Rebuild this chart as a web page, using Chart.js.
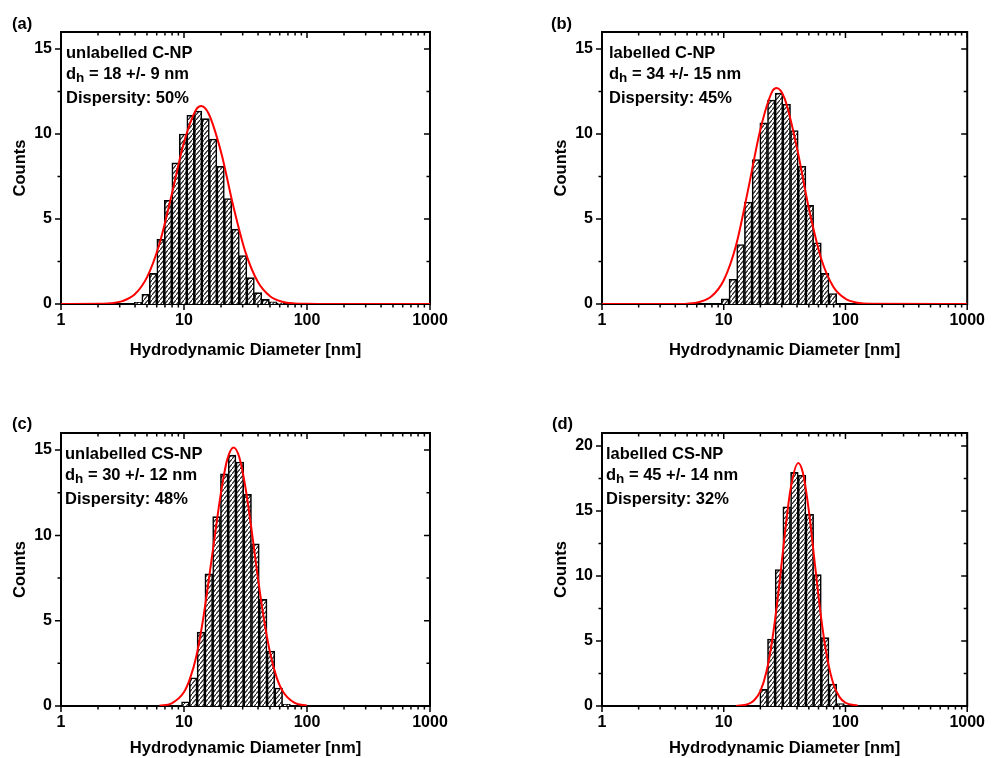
<!DOCTYPE html>
<html>
<head>
<meta charset="utf-8">
<title>DLS size distributions</title>
<script src="https://cdn.jsdelivr.net/npm/chart.js@4.4.1/dist/chart.umd.min.js"></script>
<style>
  html, body { margin: 0; padding: 0; background: #fff; }
  #page { position: relative; width: 992px; height: 758px; overflow: hidden;
          font-family: "Liberation Sans", Arial, sans-serif; font-weight: bold; color: #000; }
  #page canvas { position: absolute; }
  .tag, .note { position: absolute; font-size: 16.5px; line-height: 16px; white-space: nowrap; z-index: 2; }
  .note sub { font-size: 13.5px; vertical-align: baseline; position: relative; top: 3px; }
</style>
</head>
<body>
<div id="page"></div>
<script>
// ---- values ----
const xTicks = [1, 10, 100, 1000];
const xMinorTicks = [2, 3, 4, 5, 6, 7, 8, 9, 20, 30, 40, 50, 60, 70, 80, 90,
                     200, 300, 400, 500, 600, 700, 800, 900];
const yTicks = [0, 5, 10, 15];
const yMinorTicks = [2.5, 7.5, 12.5];
const yTicksD = [0, 5, 10, 15, 20];
const yMinorTicksD = [2.5, 7.5, 12.5, 17.5];

const panelTags = ["(a)", "(b)", "(c)", "(d)"];
const sampleNames = ["unlabelled C-NP", "labelled C-NP", "unlabelled CS-NP", "labelled CS-NP"];
const sizeTexts = ["18 +/- 9 nm", "34 +/- 15 nm", "30 +/- 12 nm", "45 +/- 14 nm"];
const dispersities = ["50%", "45%", "48%", "32%"];
const xTitle = "Hydrodynamic Diameter [nm]";
const yTitle = "Counts";

// (a) unlabelled C-NP : bin centres [nm] and counts
const binsA = [4.233, 4.870, 5.604, 6.448, 7.422, 8.541, 9.829, 11.31, 13.02, 14.98,
               17.24, 19.84, 22.83, 26.27, 30.24, 34.80, 40.05, 46.09, 53.04, 61.04];
const countsA = [0.1, 0.57, 1.8, 3.8, 6.1, 8.3, 10.0, 11.1, 11.35, 10.9,
                 9.7, 8.1, 6.2, 4.4, 2.85, 1.55, 0.67, 0.27, 0.13, 0.05];
const fitXA = [1, 2.0, 2.51, 3.16, 3.98, 5.01, 6.31, 7.94, 10.0, 12.6, 13.8, 15.8,
               20.0, 25.1, 31.6, 39.8, 50.1, 63.1, 79.4, 100, 158, 1000];
const fitYA = [0, 0.01, 0.04, 0.17, 0.57, 1.58, 3.53, 6.43, 9.51, 11.46, 11.65, 11.22,
               8.94, 5.80, 3.05, 1.31, 0.46, 0.13, 0.03, 0.01, 0, 0];

// (b) labelled C-NP
const binsB = [10.27, 11.88, 13.74, 15.90, 18.39, 21.27, 24.60, 28.44, 32.90, 38.06,
               44.02, 50.92, 58.88, 68.11, 78.78];
const countsB = [0.3, 1.45, 3.5, 6.0, 8.5, 10.65, 12.0, 12.4, 11.75, 10.2,
                 8.1, 5.8, 3.6, 1.8, 0.62];
const fitXB = [1, 3.98, 5.01, 6.31, 7.94, 10.0, 12.6, 15.8, 20.0, 25.1, 27.2, 31.6,
               39.8, 50.1, 63.1, 79.4, 100, 126, 158, 1000];
const fitYB = [0, 0, 0.02, 0.12, 0.45, 1.40, 3.43, 6.67, 10.27, 12.52, 12.7, 12.09,
               9.24, 5.60, 2.68, 1.02, 0.31, 0.07, 0.01, 0];

// (c) unlabelled CS-NP
const binsC = [10.27, 11.88, 13.74, 15.90, 18.39, 21.27, 24.60, 28.44, 32.90, 38.06,
               44.02, 50.92, 58.88, 68.11];
const countsC = [0.25, 1.65, 4.33, 7.75, 11.1, 13.6, 14.7, 14.3, 12.4, 9.5,
                 6.25, 3.22, 1.05, 0.1];
const fitXC = [6.31, 7.94, 10.0, 11.2, 12.6, 14.1, 15.8, 17.8, 20.0, 22.4, 25.3, 28.2,
               31.6, 35.5, 39.8, 44.7, 50.1, 56.2, 63.1, 79.4, 100];
const fitYC = [0.02, 0.16, 0.82, 1.62, 2.92, 4.81, 7.24, 9.96, 12.53, 14.41, 15.15, 14.56,
               12.80, 10.28, 7.56, 5.08, 3.12, 1.75, 0.90, 0.18, 0.02];

// (d) labelled CS-NP
const binsD = [21.27, 24.60, 28.44, 32.90, 38.06, 44.02, 50.92, 58.88, 68.11, 78.78, 91.12];
const countsD = [1.28, 5.15, 10.5, 15.33, 17.97, 17.75, 14.75, 10.1, 5.26, 1.69, 0.18];
const fitXD = [12.6, 15.8, 17.8, 20.0, 22.4, 25.1, 28.2, 31.6, 35.5, 40.9, 44.7, 50.1,
               56.2, 63.1, 70.8, 79.4, 89.1, 100, 126];
const fitYD = [0.01, 0.14, 0.44, 1.15, 2.61, 5.15, 8.81, 13.05, 16.75, 18.7, 17.94, 14.97,
               10.83, 6.78, 3.68, 1.73, 0.70, 0.25, 0.02];

// ---- layout (page pixels) ----
const FONT = '"Liberation Sans", Arial, sans-serif';
const CW = 496, CH = 379;
const panels = [
  { bins: binsA, counts: countsA, fitX: fitXA, fitY: fitYA, yMax: 16, yT: yTicks, yM: yMinorTicks,
    left: 0, top: 0, padL: 0, padR: 66, plotTop: 32, xAxisH: 60, padB: 15, titlePadB: 4,
    noteX: 66, noteY: 44, tagX: 12, tagY: 15 },
  { bins: binsB, counts: countsB, fitX: fitXB, fitY: fitYB, yMax: 16, yT: yTicks, yM: yMinorTicks,
    left: 496, top: 0, padL: 45, padR: 20, plotTop: 32, xAxisH: 60, padB: 15, titlePadB: 4,
    noteX: 609, noteY: 44, tagX: 551, tagY: 15 },
  { bins: binsC, counts: countsC, fitX: fitXC, fitY: fitYC, yMax: 16, yT: yTicks, yM: yMinorTicks,
    left: 0, top: 379, padL: 0, padR: 66, plotTop: 54, xAxisH: 52, padB: 0, titlePadB: 0,
    noteX: 65, noteY: 445, tagX: 12, tagY: 415 },
  { bins: binsD, counts: countsD, fitX: fitXD, fitY: fitYD, yMax: 21, yT: yTicksD, yM: yMinorTicksD,
    left: 496, top: 379, padL: 45, padR: 20, plotTop: 54, xAxisH: 52, padB: 0, titlePadB: 0,
    noteX: 606, noteY: 445, tagX: 552, tagY: 415 },
];
const noteLineOffsets = [0, 20.5, 45];

// diagonal hatch used to fill the bars
function makeHatch() {
  const c = document.createElement("canvas");
  c.width = 4; c.height = 5;
  const g = c.getContext("2d");
  g.fillStyle = "#fff";
  g.fillRect(0, 0, 4, 5);
  g.strokeStyle = "#1a1a1a";
  g.lineWidth = 1.1;
  g.beginPath();
  g.moveTo(-1, 6.25);
  g.lineTo(5, -1.25);
  g.stroke();
  return g.createPattern(c, "repeat");
}

// frame box with Origin-style ticks (out on bottom/left, in on top/right)
const frameTicks = {
  id: "frameTicks",
  beforeDatasetsDraw(chart, args, opts) {
    const { ctx, chartArea: a, scales: { x, y } } = chart;
    const seg = (x1, y1, x2, y2) => { ctx.moveTo(x1, y1); ctx.lineTo(x2, y2); };
    ctx.save();
    ctx.strokeStyle = "#000";
    ctx.lineWidth = 1.5;
    ctx.beginPath();
    xTicks.forEach((v) => {
      const p = x.getPixelForValue(v);
      seg(p, a.bottom, p, a.bottom + 6);
      seg(p, a.top, p, a.top + 6);
    });
    xMinorTicks.forEach((v) => {
      const p = x.getPixelForValue(v);
      seg(p, a.bottom, p, a.bottom + 3.5);
      seg(p, a.top, p, a.top + 3.5);
    });
    opts.yT.forEach((v) => {
      const p = y.getPixelForValue(v);
      seg(a.left - 6, p, a.left, p);
      seg(a.right - 6, p, a.right, p);
    });
    opts.yM.forEach((v) => {
      const p = y.getPixelForValue(v);
      seg(a.left - 3.5, p, a.left, p);
      seg(a.right - 3.5, p, a.right, p);
    });
    ctx.stroke();
    ctx.lineWidth = 2;
    ctx.strokeRect(a.left, a.top, a.right - a.left, a.bottom - a.top);
    ctx.restore();
  },
};

Chart.defaults.font.family = FONT;
Chart.defaults.color = "#000";

const page = document.getElementById("page");
const hatch = makeHatch();

function addText(cls, x, y, build) {
  const el = document.createElement("div");
  el.className = cls;
  el.style.left = x + "px";
  el.style.top = y + "px";
  build(el);
  page.appendChild(el);
}

panels.forEach((p, i) => {
  const canvas = document.createElement("canvas");
  canvas.width = CW;
  canvas.height = CH;
  canvas.style.left = p.left + "px";
  canvas.style.top = p.top + "px";
  page.appendChild(canvas);

  const tickFont = { size: 16, weight: "bold", family: FONT };
  const titleFont = { size: 16.6, weight: "bold", family: FONT };

  new Chart(canvas.getContext("2d"), {
    type: "bar",
    data: {
      datasets: [
        {
          type: "line",
          data: p.fitX.map((v, k) => ({ x: v, y: p.fitY[k] })),
          borderColor: "#ff0000",
          borderWidth: 2,
          pointRadius: 0,
          fill: false,
          cubicInterpolationMode: "monotone",
          order: 1,
        },
        {
          type: "bar",
          data: p.bins.map((v, k) => ({ x: v, y: p.counts[k] })),
          backgroundColor: hatch,
          borderColor: "#000",
          borderWidth: 1.6,
          barPercentage: 1,
          categoryPercentage: 1,
          order: 2,
        },
      ],
    },
    options: {
      responsive: false,
      animation: false,
      devicePixelRatio: 1,
      layout: { padding: { left: p.padL, right: p.padR, top: p.plotTop, bottom: p.padB } },
      plugins: {
        legend: { display: false },
        tooltip: { enabled: false },
        frameTicks: { yT: p.yT, yM: p.yM },
      },
      scales: {
        x: {
          type: "logarithmic",
          min: 1,
          max: 1000,
          offset: false,
          grid: { display: false, drawTicks: false, offset: false },
          border: { display: false },
          afterBuildTicks: (axis) => { axis.ticks = xTicks.map((v) => ({ value: v })); },
          afterFit: (axis) => { axis.height = p.xAxisH; },
          ticks: {
            autoSkip: false, maxRotation: 0, minRotation: 0, padding: 7,
            font: tickFont, color: "#000",
            callback: (v) => String(v),
          },
          title: {
            display: true, text: xTitle, color: "#000", font: titleFont,
            padding: { top: 0, bottom: p.titlePadB },
          },
        },
        y: {
          type: "linear",
          min: 0,
          max: p.yMax,
          grid: { display: false, drawTicks: false },
          border: { display: false },
          afterBuildTicks: (axis) => { axis.ticks = p.yT.map((v) => ({ value: v })); },
          afterFit: (axis) => { axis.width = 61; },
          ticks: { padding: 9, font: tickFont, color: "#000" },
          title: {
            display: true, text: yTitle, color: "#000", font: titleFont,
            padding: { top: 10, bottom: 0 },
          },
        },
      },
    },
    plugins: [frameTicks],
  });

  // panel letter and sample annotation
  addText("tag", p.tagX, p.tagY, (el) => { el.textContent = panelTags[i]; });
  addText("note", p.noteX, p.noteY + noteLineOffsets[0], (el) => { el.textContent = sampleNames[i]; });
  addText("note", p.noteX, p.noteY + noteLineOffsets[1], (el) => {
    el.appendChild(document.createTextNode("d"));
    const sub = document.createElement("sub");
    sub.textContent = "h";
    el.appendChild(sub);
    el.appendChild(document.createTextNode(" = " + sizeTexts[i]));
  });
  addText("note", p.noteX, p.noteY + noteLineOffsets[2], (el) => {
    el.textContent = "Dispersity: " + dispersities[i];
  });
});
</script>
</body>
</html>
